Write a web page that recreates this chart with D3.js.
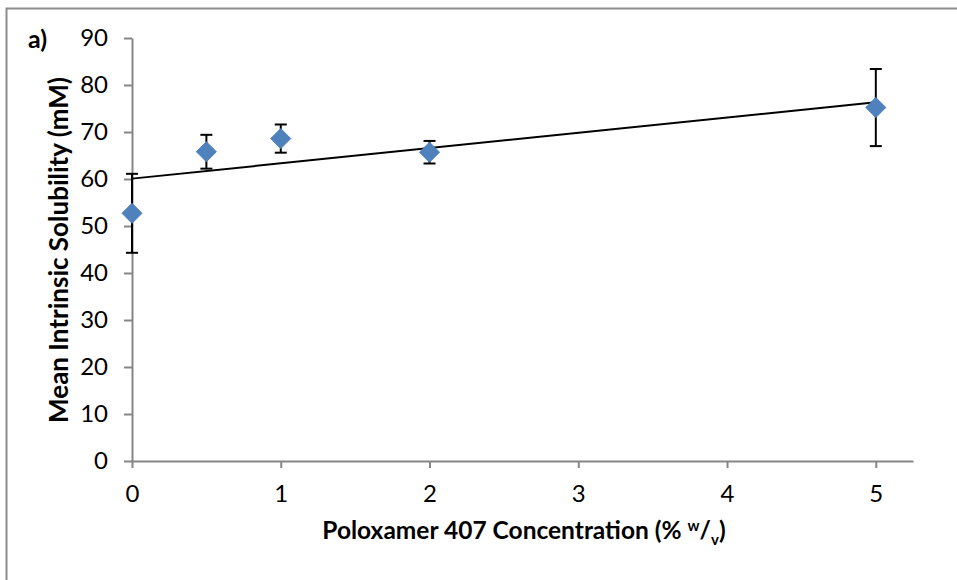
<!DOCTYPE html>
<html>
<head>
<meta charset="utf-8">
<script src="https://cdn.jsdelivr.net/npm/d3@7"></script>
<style>
body { margin: 0; background: #fff; }
text { font-family: Lato, "Open Sans", sans-serif; fill: #000; }
</style>
</head>
<body>
<script>
var width = 957,
    height = 580;

// data
var concentrations = [0, 0.5, 1, 2, 5];
var solubility = [52.7, 65.8, 68.6, 65.7, 75.2];
var errors = [8.4, 3.6, 3.0, 2.4, 8.2];
var xTicks = [0, 1, 2, 3, 4, 5];
var yTicks = [0, 10, 20, 30, 40, 50, 60, 70, 80, 90];

var data = concentrations.map(function(c, i) {
    return { x: c, y: solubility[i], err: errors[i] };
});

var xscale = d3.scaleLinear().domain([0, 5.25]).range([132, 913]);
var yscale = d3.scaleLinear().domain([0, 90]).range([461, 38]);

var svg = d3.select("body").append("svg")
    .attr("width", width)
    .attr("height", height);

// outer frame (only top and left visible)
svg.append("path")
    .attr("d", "M6.5,580V8.5H957")
    .attr("fill", "none")
    .attr("stroke", "#8c8c8c")
    .attr("stroke-width", 2);

var xAxis = svg.append("g")
    .attr("transform", "translate(0," + yscale(0) + ")")
    .call(d3.axisBottom(xscale).tickValues(xTicks).tickFormat(d3.format("d"))
        .tickSize(7).tickPadding(17).tickSizeOuter(0));

var yAxis = svg.append("g")
    .attr("transform", "translate(" + xscale(0) + ",0)")
    .call(d3.axisLeft(yscale).tickValues(yTicks).tickFormat(d3.format("d"))
        .tickSize(8).tickPadding(16).tickSizeOuter(0));

[xAxis, yAxis].forEach(function(ax) {
    ax.select(".domain").attr("stroke", "#868686").attr("stroke-width", 2);
    ax.selectAll(".tick line").attr("stroke", "#868686").attr("stroke-width", 2);
    ax.selectAll(".tick text")
        .style("font-family", "Lato, sans-serif")
        .style("font-size", "24px")
        .attr("fill", "#000");
});

// linear trendline from least squares fit
var mx = d3.mean(data, function(d) { return d.x; }),
    my = d3.mean(data, function(d) { return d.y; });
var slope = d3.sum(data, function(d) { return (d.x - mx) * (d.y - my); }) /
            d3.sum(data, function(d) { return (d.x - mx) * (d.x - mx); });
var intercept = my - slope * mx;
var xmin = d3.min(concentrations), xmax = d3.max(concentrations);

svg.append("line")
    .attr("x1", xscale(xmin))
    .attr("y1", yscale(intercept + slope * xmin))
    .attr("x2", xscale(xmax))
    .attr("y2", yscale(intercept + slope * xmax))
    .attr("stroke", "#000")
    .attr("stroke-width", 2);

// error bars
var eb = svg.append("g").attr("class", "errorbars")
    .selectAll("g")
    .data(data).enter().append("g");

eb.append("line")
    .attr("x1", function(d) { return xscale(d.x); })
    .attr("x2", function(d) { return xscale(d.x); })
    .attr("y1", function(d) { return yscale(d.y + d.err); })
    .attr("y2", function(d) { return yscale(d.y - d.err); })
    .attr("stroke", "#000").attr("stroke-width", 2);

[1, -1].forEach(function(s) {
    eb.append("line")
        .attr("x1", function(d) { return xscale(d.x) - 6; })
        .attr("x2", function(d) { return xscale(d.x) + 6; })
        .attr("y1", function(d) { return yscale(d.y + s * d.err); })
        .attr("y2", function(d) { return yscale(d.y + s * d.err); })
        .attr("stroke", "#000").attr("stroke-width", 2);
});

// diamond markers
svg.append("g").attr("class", "points")
    .selectAll("path")
    .data(data).enter().append("path")
    .attr("d", "M0,-10L10,0L0,10L-10,0Z")
    .attr("transform", function(d) { return "translate(" + xscale(d.x) + "," + yscale(d.y) + ")"; })
    .attr("fill", "#4f81bd")
    .attr("stroke", "#4a7ebb")
    .attr("stroke-width", 1);

// titles
svg.append("text")
    .attr("x", 28).attr("y", 48)
    .style("font-size", "25px").style("font-weight", "bold")
    .text("a)");

var xt = svg.append("text")
    .attr("x", 524).attr("y", 539)
    .attr("text-anchor", "middle")
    .style("font-size", "24.5px").style("font-weight", "bold");
xt.append("tspan").text("Poloxamer 407 Concentration (% ");
xt.append("tspan").attr("dy", -8).style("font-size", "15px").text("w");
xt.append("tspan").attr("dy", 8).text("/");
xt.append("tspan").attr("dy", 6).style("font-size", "15px").text("v");
xt.append("tspan").attr("dy", -6).text(")");

svg.append("text")
    .attr("transform", "translate(68,250) rotate(-90)")
    .attr("text-anchor", "middle")
    .style("font-size", "26px").style("font-weight", "bold")
    .text("Mean Intrinsic Solubility (mM)");
</script>
</body>
</html>
